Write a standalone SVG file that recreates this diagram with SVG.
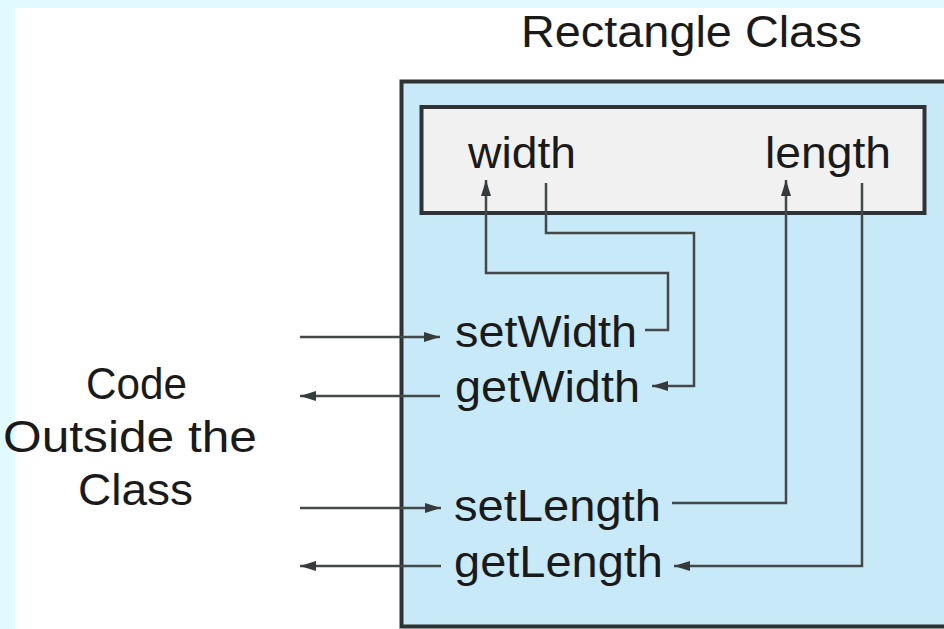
<svg xmlns="http://www.w3.org/2000/svg" width="944" height="629" viewBox="0 0 944 629">
<style>
  text { font-family: "Liberation Sans", Arial, Helvetica, sans-serif; font-size: 44px; fill: #1a1a1a; }
  .box { stroke: #2f3335; stroke-width: 4; }
  .conn { fill: none; stroke: #434849; stroke-width: 2.5; }
</style>
<defs>
  <marker id="ah" viewBox="0 0 16 10" refX="16" refY="5" markerWidth="16" markerHeight="10" markerUnits="userSpaceOnUse" orient="auto">
    <path d="M0,0 L16,5 L0,10 Z" fill="#353a3c"/>
  </marker>
</defs>
<rect x="0" y="0" width="944" height="629" fill="#ffffff"/>
<rect x="0" y="0" width="944" height="8" fill="#e0faff"/>
<rect x="0" y="0" width="15" height="629" fill="#e0faff"/>

<g id="title">
  <text x="521" y="47" textLength="341" lengthAdjust="spacingAndGlyphs">Rectangle Class</text>
</g>

<g id="rectangle-class">
  <rect class="box" x="401.5" y="81.5" width="600" height="545" fill="#c8e9f8"/>
</g>

<g id="fields">
  <rect class="box" x="421.5" y="107" width="503" height="106" fill="#f2f1f1"/>
  <text x="468" y="168" textLength="108" lengthAdjust="spacingAndGlyphs">width</text>
  <text x="765" y="168" textLength="126" lengthAdjust="spacingAndGlyphs">length</text>
</g>

<g id="setWidth"><text x="455" y="347" textLength="182" lengthAdjust="spacingAndGlyphs">setWidth</text></g>
<g id="getWidth"><text x="455" y="402" textLength="185" lengthAdjust="spacingAndGlyphs">getWidth</text></g>
<g id="setLength"><text x="454" y="521" textLength="207" lengthAdjust="spacingAndGlyphs">setLength</text></g>
<g id="getLength"><text x="454" y="577" textLength="209" lengthAdjust="spacingAndGlyphs">getLength</text></g>

<g id="outside-code">
  <text x="86" y="399" textLength="101" lengthAdjust="spacingAndGlyphs">Code</text>
  <text x="3" y="452" textLength="254" lengthAdjust="spacingAndGlyphs">Outside the</text>
  <text x="78" y="505" textLength="115" lengthAdjust="spacingAndGlyphs">Class</text>
</g>

<g id="connectors">
  <path class="conn" d="M645,330 H668 V273 H486 V180" marker-end="url(#ah)"/>
  <path class="conn" d="M546,183 V233 H694 V386 H652" marker-end="url(#ah)"/>
  <path class="conn" d="M672,503 H786 V180" marker-end="url(#ah)"/>
  <path class="conn" d="M862,183 V566 H674" marker-end="url(#ah)"/>
  <path class="conn" d="M300,337 H440" marker-end="url(#ah)"/>
  <path class="conn" d="M440,396 H300" marker-end="url(#ah)"/>
  <path class="conn" d="M300,508 H441" marker-end="url(#ah)"/>
  <path class="conn" d="M441,566 H300" marker-end="url(#ah)"/>
</g>
</svg>
